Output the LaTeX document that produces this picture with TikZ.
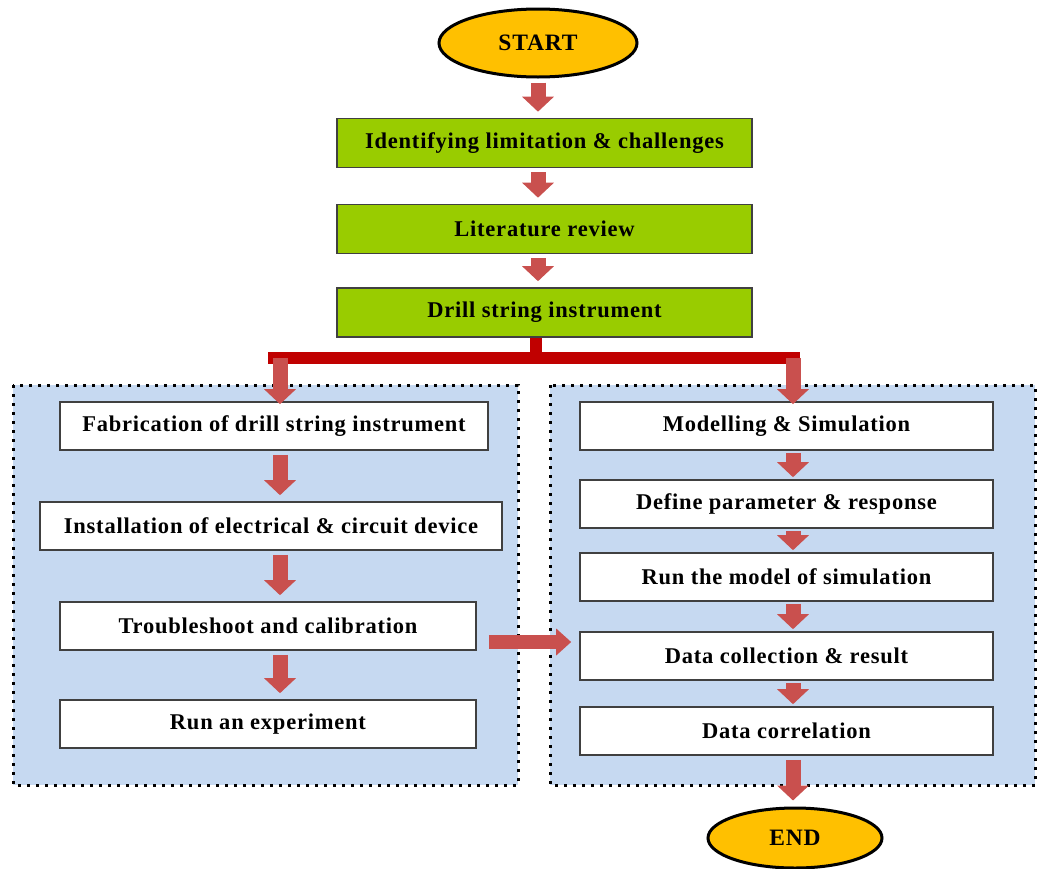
\documentclass[tikz,border=0pt]{standalone}
\usepackage{fontspec}
\setmainfont{Liberation Serif}
\newfontfamily\boxfont[LetterSpace=3.5]{Liberation Serif}
\usetikzlibrary{arrows.meta,calc,shapes.geometric}
\definecolor{termfill}{HTML}{FFC000}
\definecolor{stepgreen}{HTML}{99CC00}
\definecolor{panelblue}{HTML}{C6D9F1}
\definecolor{arrowred}{HTML}{C9504E}
\definecolor{barred}{HTML}{C00000}
\definecolor{edgegray}{HTML}{404040}
\tikzset{
  terminal/.style={ellipse, draw=black, line width=3pt, fill=termfill,
    minimum width=198pt, minimum height=68pt, inner sep=0pt,
    font=\boxfont\fontsize{23.5}{27}\selectfont\bfseries},
  greenbox/.style={rectangle, draw=edgegray, line width=1.6pt, fill=stepgreen,
    minimum width=415pt, minimum height=49pt, inner sep=0pt,
    font=\boxfont\fontsize{22.5}{26}\selectfont\bfseries},
  whitebox/.style={rectangle, draw=edgegray, line width=1.6pt, fill=white,
    minimum height=48pt, inner sep=0pt,
    font=\boxfont\fontsize{22.5}{26}\selectfont\bfseries},
  panel/.style={fill=panelblue, draw=black, line width=3pt, dash pattern=on 3pt off 6pt},
  blockarrow/.style={draw=arrowred, line width=15pt,
    -{Triangle[length=15pt,width=31pt]}, shorten <=4pt, shorten >=6pt},
  redbar/.style={draw=barred, line width=12pt}
}
\begin{document}
\begin{tikzpicture}[x=1pt,y=-1pt]
\useasboundingbox (0,0) rectangle (1039,868);
% back panels
\draw[panel] (13,385) rectangle (518,785);
\draw[panel] (550,385) rectangle (1035,785);
\coordinate (larr) at (280,0);
\coordinate (rarr) at (793,0);
\coordinate (harr) at (0,642);
\node[terminal] (start) at (538,43) {START};
\node[greenbox] (ident) at (544.5,143) {Identifying limitation \& challenges};
\node[greenbox] (litrev) at (544.5,229) {Literature review};
\node[greenbox] (dsi) at (544.5,312.5) {Drill string instrument};
% left branch
\node[whitebox, minimum width=428pt] (fab) at (274,426) {Fabrication of drill string instrument};
\node[whitebox, minimum width=462pt] (inst) at (271,526) {Installation of electrical \& circuit device};
\node[whitebox, minimum width=416pt] (trbl) at (268,626) {Troubleshoot and calibration};
\node[whitebox, minimum width=416pt] (runexp) at (268,724) {Run an experiment};
% right branch
\node[whitebox, minimum width=413pt] (model) at (786.5,426) {Modelling \& Simulation};
\node[whitebox, minimum width=413pt] (defpar) at (786.5,504) {Define parameter \& response};
\node[whitebox, minimum width=413pt] (runmod) at (786.5,577) {Run the model of simulation};
\node[whitebox, minimum width=413pt] (datacol) at (786.5,656) {Data collection \& result};
\node[whitebox, minimum width=413pt] (datacor) at (786.5,731) {Data correlation};
\node[terminal, minimum width=174pt, minimum height=60pt] (stop) at (795,838) {END};
% main line
\draw[blockarrow] (start.south) -- (start.south |- ident.north);
\draw[blockarrow] (start.south |- ident.south) -- (start.south |- litrev.north);
\draw[blockarrow] (start.south |- litrev.south) -- (start.south |- dsi.north);
% split
\coordinate (split) at (536,358);
\coordinate (barL) at (268,358);
\coordinate (barR) at (800,358);
\draw[redbar] (dsi.south -| split) -- (split);
\draw[redbar] (barL) -- (barR);
\draw[blockarrow, shorten <=0pt, shorten >=-3pt] (larr |- split) -- (larr |- fab.north);
\draw[blockarrow, shorten <=0pt, shorten >=-3pt] (rarr |- split) -- (rarr |- model.north);
% left column
\draw[blockarrow] (larr |- fab.south) -- (larr |- inst.north);
\draw[blockarrow] (larr |- inst.south) -- (larr |- trbl.north);
\draw[blockarrow] (larr |- trbl.south) -- (larr |- runexp.north);
% right column
\draw[blockarrow, shorten <=2pt, shorten >=2pt] (rarr |- model.south) -- (rarr |- defpar.north);
\draw[blockarrow, shorten <=2pt, shorten >=2pt] (rarr |- defpar.south) -- (rarr |- runmod.north);
\draw[blockarrow, shorten <=2pt, shorten >=2pt] (rarr |- runmod.south) -- (rarr |- datacol.north);
\draw[blockarrow, shorten <=2pt, shorten >=2pt] (rarr |- datacol.south) -- (rarr |- datacor.north);
\draw[blockarrow] (rarr |- datacor.south) -- (rarr |- stop.north);
% cross link
\draw[blockarrow, line width=14pt, -{Triangle[length=15pt,width=26pt]}, shorten <=12pt, shorten >=8pt]
  (trbl.east |- harr) -- (datacol.west |- harr);
\end{tikzpicture}
\end{document}
